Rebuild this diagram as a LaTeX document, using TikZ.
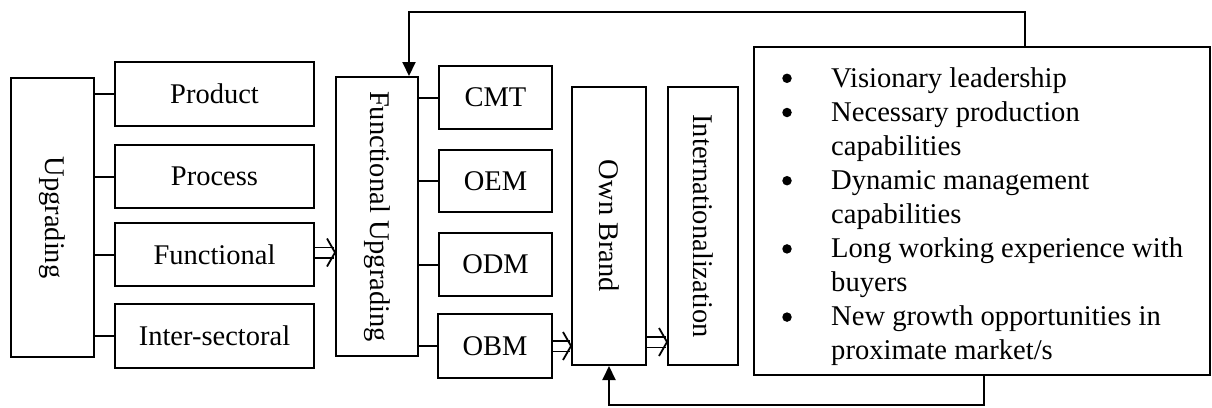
\documentclass[tikz,border=0pt]{standalone}
\usepackage{fontspec}
\usepackage{graphicx}
\setmainfont{Liberation Serif}
\usetikzlibrary{arrows.meta}
\newcommand\dblarr[2]{%
  \draw[line width=1.5pt, double, double distance=9pt] (#1) -- ([xshift=-1.5pt]#2);
  \draw[line width=1.8pt, line join=miter] ([shift={(-8pt,14pt)}]#2) -- (#2) -- ([shift={(-8pt,-14pt)}]#2);}
\begin{document}
\begin{tikzpicture}[x=1pt,y=-1pt,
  box/.style={draw, line width=2pt, inner sep=0pt, font=\fontsize{28.5}{34.1}\selectfont},
  conn/.style={line width=2pt},
  fb/.style={line width=2pt, -{Triangle[width=13pt,length=14pt]}},
  itm/.style={anchor=base west, inner sep=0pt, font=\fontsize{28.6}{34.1}\selectfont},
  bul/.style={circle, fill, inner sep=0pt, minimum size=9.5pt}]
\useasboundingbox (0,0) rectangle (1212,407);
% left column
\node[box, minimum width=83pt, minimum height=279pt] (upg) at (52.5,217.5) {\rotatebox{-90}{Upgrading}};
\node[box, minimum width=199pt, minimum height=64pt] (product) at (214.5,94) {Product};
\node[box, minimum width=199pt, minimum height=63pt] (process) at (214.5,176.5) {Process};
\node[box, minimum width=199pt, minimum height=63pt] (functional) at (214.5,254.5) {Functional};
\node[box, minimum width=199pt, minimum height=64pt] (inter) at (214.5,336) {Inter-sectoral};
\foreach \n in {product,process,functional,inter}
  \draw[conn] (\n.west -| upg.east) -- (\n.west);
% functional upgrading
\node[box, minimum width=82pt, minimum height=279pt] (fu) at (377,216.5) {\rotatebox{-90}{Functional Upgrading}};
\node[box, minimum width=113pt, minimum height=63pt] (cmt) at (495.5,97.5) {CMT};
\node[box, minimum width=113pt, minimum height=62pt] (oem) at (495.5,181) {OEM};
\node[box, minimum width=113pt, minimum height=63pt] (odm) at (495.5,264.5) {ODM};
\node[box, minimum width=114pt, minimum height=64pt] (obm) at (495,346) {OBM};
\foreach \n in {cmt,oem,odm,obm}
  \draw[conn] (\n.west -| fu.east) -- (\n.west);
% own brand, internationalization
\node[box, minimum width=74pt, minimum height=278pt] (own) at (609,226) {\rotatebox{-90}{Own Brand}};
\node[box, minimum width=70pt, minimum height=278pt] (intl) at (703,226) {\rotatebox{-90}{Internationalization}};
% double arrows
\coordinate (d1s) at ([yshift=2pt]functional.east);
\coordinate (d1e) at (d1s -| fu.west);
\coordinate (d2s) at (obm.east);
\coordinate (d2e) at (d2s -| own.west);
\coordinate (d3s) at ([yshift=24pt]own.south east);
\coordinate (d3e) at (d3s -| intl.west);
\dblarr{d1s}{d1e}
\dblarr{d2s}{d2e}
\dblarr{d3s}{d3e}
% list box
\node[draw, line width=2pt, minimum width=456pt, minimum height=328pt, inner sep=0pt] (list) at (982,211) {};
\node[bul] (b1) at (787,78.3) {};
\node[bul] (b2) at (787,112.5) {};
\node[bul] (b3) at (787,180.7) {};
\node[bul] (b4) at (787,248.9) {};
\node[bul] (b5) at (787,317.1) {};
\node[itm] (l1) at (831,87) {Visionary leadership};
\node[itm] (l2) at (831,121.1) {Necessary production};
\node[itm] (l3) at (831,155.2) {capabilities};
\node[itm] (l4) at (831,189.3) {Dynamic management};
\node[itm] (l5) at (831,223.4) {capabilities};
\node[itm] (l6) at (831,257.5) {Long working experience with};
\node[itm] (l7) at (831,291.6) {buyers};
\node[itm] (l8) at (831,325.7) {New growth opportunities in};
\node[itm] (l9) at (831,359.8) {proximate market/s};
% feedback arrows
\coordinate (tl) at (409,12);
\coordinate (bl) at (609,405);
\draw[fb] ([xshift=272pt]list.north west) |- (tl) -- (tl |- fu.north);
\draw[fb] ([xshift=231pt]list.south west) |- (bl) -- (own.south);
\end{tikzpicture}
\end{document}
